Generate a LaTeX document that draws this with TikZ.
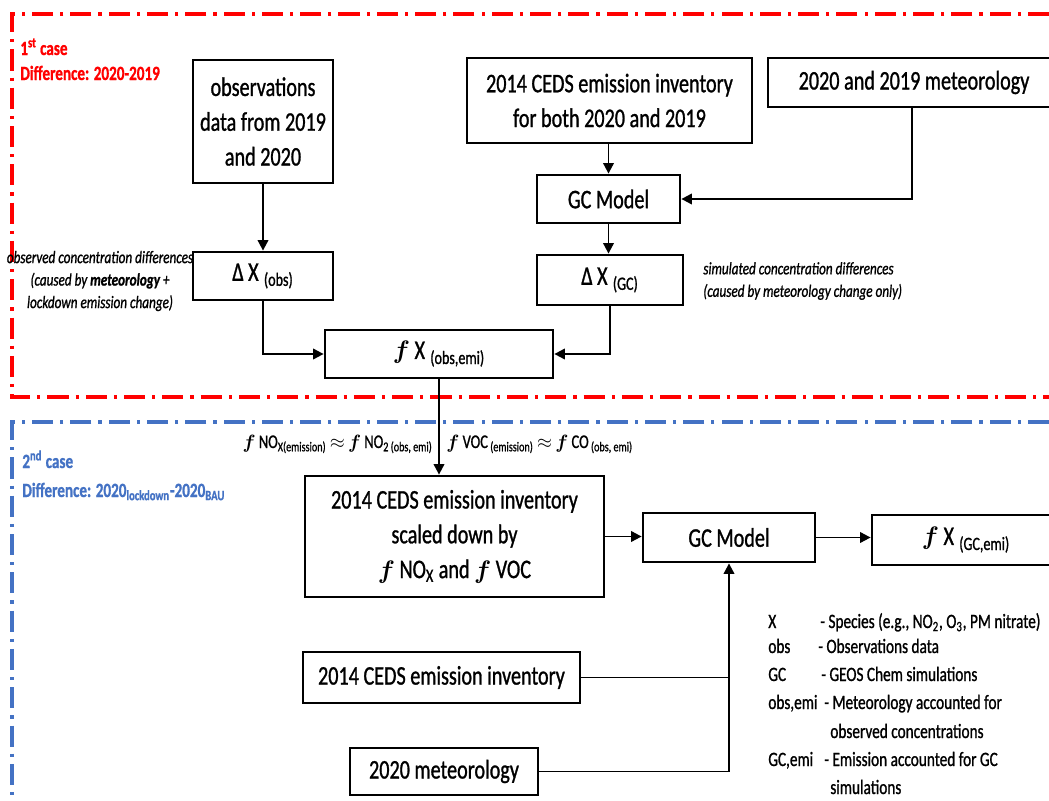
\documentclass[tikz,border=0pt]{standalone}
\usepackage{fontspec}
\usepackage{bm}
\setmainfont{Carlito}[FakeStretch=0.75,FakeBold=1.0]
\usetikzlibrary{arrows.meta}
\definecolor{cred}{RGB}{255,0,0}
\definecolor{cblue}{RGB}{68,114,196}
\newcommand{\ff}{$\bm{f}$\,}
\begin{document}
\begin{tikzpicture}[x=0.02cm,y=-0.02cm,
  box/.style={draw,line width=1.6pt,inner sep=0pt,align=center,font=\fontsize{15.3}{19.8}\selectfont},
  arr/.style={line width=1.1pt,-{Triangle[length=6pt,width=6pt]}},
  ln/.style={line width=1.1pt},
  frame/.style={line width=2.2pt,dash pattern=on 12pt off 4pt on 1.8pt off 4pt},
  note/.style={inner sep=0pt,font=\fontsize{10}{12.8}\selectfont\itshape,align=center},
  casetext/.style={anchor=base west,inner sep=0pt,font=\bfseries\fontsize{11.5}{14}\selectfont},
  eqtext/.style={inner sep=0pt,font=\fontsize{11}{13}\selectfont},
  legend/.style={anchor=base west,inner sep=0pt,font=\fontsize{11.6}{13}\selectfont}
]
\useasboundingbox (0,0) rectangle (1049,801);
\clip (0,0) rectangle (1049,801);
% frames (open on the right, running off the picture)
\coordinate (r1) at (1049,14);
\coordinate (r2) at (1049,397);
\coordinate (b1) at (1049,422);
\coordinate (b2) at (12,801);
\draw[frame,cred] (r1) -- (12,14) -- (12,397) -- (r2);
\draw[frame,cblue] (b1) -- (12,422) -- (b2);
% case labels
\node[casetext,text=cred] (c1a) at (20,55) {1\textsuperscript{st} case};
\node[casetext,text=cred] (c1b) at (20,80) {Difference: 2020-2019};
\node[casetext,text=cblue] (c2a) at (22,468) {2\textsuperscript{nd} case};
\node[casetext,text=cblue] (c2b) at (22,497) {Difference: 2020\textsubscript{lockdown}-2020\textsubscript{BAU}};
% boxes
\node[box,minimum width=2.8cm,minimum height=2.46cm] (obs) at (263,121.5) {observations\\data from 2019\\and 2020};
\node[box,minimum width=5.7cm,minimum height=1.7cm] (cedsT) at (609.5,100.5) {2014 CEDS emission inventory\\for both 2020 and 2019};
\node[box,minimum width=5.84cm,minimum height=0.98cm] (metT) at (914,82.5) {2020 and 2019 meteorology};
\node[box,minimum width=2.86cm,minimum height=0.96cm] (gcT) at (608.5,199) {GC Model};
\node[box,minimum width=2.8cm,minimum height=0.96cm] (dxo) at (263,276) {Δ\,X\hspace{3pt}\textsubscript{(obs)}};
\node[box,minimum width=2.92cm,minimum height=1.0cm] (dxg) at (610,280) {Δ\,X\hspace{3pt}\textsubscript{(GC)}};
\node[box,minimum width=4.56cm,minimum height=0.96cm] (fxo) at (439,354) {\ff X\hspace{3pt}\textsubscript{(obs,emi)}};
\node[box,minimum width=5.98cm,minimum height=2.42cm] (cedsS) at (454.5,536.5) {2014 CEDS emission inventory\\scaled down by\\\ff NO\textsubscript{X} and \ff VOC};
\node[box,minimum width=3.44cm,minimum height=0.98cm] (gcB) at (729,537.5) {GC Model};
\node[box,minimum width=3.76cm,minimum height=1.0cm] (fxg) at (966,540) {\ff X\hspace{3pt}\textsubscript{(GC,emi)}};
\node[box,minimum width=5.54cm,minimum height=1.02cm] (cedsB) at (441.5,677.5) {2014 CEDS emission inventory};
\node[box,minimum width=3.76cm,minimum height=0.94cm] (met20) at (444,771.5) {2020 meteorology};
% notes
\node[note] (nobs) at (100,281) {observed concentration differences\\(caused by \textbf{meteorology} +\\lockdown emission change)};
\node[note,anchor=west,align=left] (nsim) at (703,281) {simulated concentration differences\\(caused by meteorology change only)};
\node[eqtext,anchor=base east] (lab1) at (433,448) {\ff NO\textsubscript{X(emission)} $\approx$ \ff NO\textsubscript{2 (obs, emi)}};
\node[eqtext,anchor=base west] (lab2) at (446,448) {\ff VOC\textsubscript{ (emission)} $\approx$ \ff CO\textsubscript{ (obs, emi)}};
% legend
\node[legend] (l1a) at (768,628) {X};
\node[legend] (l1b) at (820,628) {- Species (e.g., NO\textsubscript{2}, O\textsubscript{3}, PM nitrate)};
\node[legend] (l2a) at (768,653) {obs};
\node[legend] (l2b) at (818,653) {- Observations data};
\node[legend] (l3a) at (768,681) {GC};
\node[legend] (l3b) at (821,681) {- GEOS Chem simulations};
\node[legend] (l4a) at (768,709) {obs,emi};
\node[legend] (l4b) at (824,709) {- Meteorology accounted for};
\node[legend] (l5b) at (830,738) {observed concentrations};
\node[legend] (l6a) at (768,766) {GC,emi};
\node[legend] (l6b) at (824,766) {- Emission accounted for GC};
\node[legend] (l7b) at (830,794) {simulations};
% connectors
\coordinate (mx) at (912,0);
\draw[arr] (obs.south) -- (dxo.north);
\draw[arr] (cedsT.south -| gcT.north) -- (gcT.north);
\draw[arr] (metT.south -| mx) |- (gcT.east);
\draw[arr] (gcT.south) -- (gcT.south |- dxg.north);
\draw[arr] (dxo.south) |- (fxo.west);
\draw[arr] (dxg.south) |- (fxo.east);
\draw[arr] (fxo.south) -- (fxo.south |- cedsS.north);
\draw[arr] (cedsS.east) -- (cedsS.east -| gcB.west);
\draw[arr] (gcB.east) -- (gcB.east -| fxg.west);
\draw[ln] (cedsB.east) -- (cedsB.east -| gcB.south);
\draw[arr] (met20.east) -| (gcB.south);
\end{tikzpicture}
\end{document}
